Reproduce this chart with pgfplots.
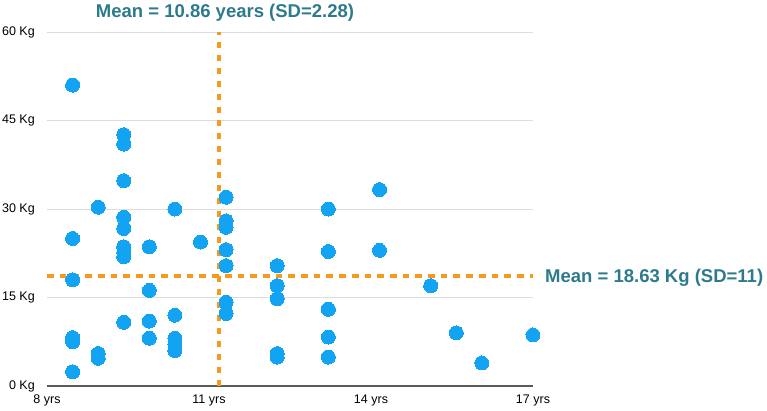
\documentclass[border=0pt]{standalone}
\usepackage{pgfplots}
\pgfplotsset{compat=1.18}
\usepackage{pgfplotstable}
\usepackage{fontspec}
\setmainfont{Liberation Sans}

\definecolor{dotblue}{HTML}{12A4F2}
\definecolor{meanorange}{HTML}{F5991F}
\definecolor{labelteal}{HTML}{2D7A8C}
\definecolor{gridgray}{HTML}{DDDDDD}
\definecolor{basegray}{HTML}{5A5A5A}

% age (years) and weight (Kg) of each child
\pgfplotstableread{
age  weight
8    51.0
8    25.0
8    18.0
8    8.2
8    7.5
8    2.4
8.5  30.3
8.5  5.5
8.5  4.7
9    42.6
9    41.0
9    34.8
9    28.6
9    26.7
9    23.6
9    22.6
9    21.9
9    10.8
9.5  23.6
9.5  16.2
9.5  11.0
9.5  8.1
10   30.0
10   12.0
10   8.1
10   7.1
10   6.0
10.5 24.4
11   32.0
11   28.0
11   26.9
11   23.1
11   20.4
11   14.2
11   12.3
12   20.4
12   17.0
12   14.8
12   5.5
12   4.9
13   30.0
13   22.8
13   13.0
13   8.3
13   4.9
14   33.3
14   23.0
15   17.0
15.5 9.0
16   3.9
17   8.65
}\weights

\begin{document}
\begin{tikzpicture}
\useasboundingbox (-47pt,-24pt) rectangle (720pt,386pt);
\begin{axis}[
  at={(0,0)}, anchor=south west,
  scale only axis,
  width=486pt, height=354pt,
  xmin=7.5, xmax=17, ymin=0, ymax=60,
  enlargelimits=false,
  clip=false,
  axis lines*=left,
  x axis line style={-, draw=basegray, line width=1.2pt},
  y axis line style={draw=none},
  xtick={7.5,10.6667,13.8333,17},
  xticklabels={8 yrs,11 yrs,14 yrs,17 yrs},
  ytick={0,15,30,45,60},
  yticklabels={0 Kg,15 Kg,30 Kg,45 Kg,60 Kg},
  major tick length=0pt,
  ymajorgrids,
  major grid style={draw=gridgray, line width=1pt},
  tick label style={font=\fontsize{12.5}{14}\selectfont, text=black},
  yticklabel style={inner sep=0pt, anchor=east, xshift=-12pt},
  xticklabel style={inner sep=0pt, anchor=north, yshift=-9pt},
]
\addplot[only marks, mark=*, mark size=7pt, color=dotblue,
  mark options={draw=dotblue, fill=dotblue, line width=0pt}]
  table[x=age, y=weight] {\weights};

% mean age and mean weight
\addplot[meanorange, line width=3.3pt, dash pattern=on 6pt off 7pt]
  coordinates {(10.86,0) (10.86,60)};
\addplot[meanorange, line width=3.3pt, dash pattern=on 6.7pt off 6pt]
  coordinates {(7.5,18.63) (17,18.63)};

\node[anchor=base, inner sep=0pt, yshift=15pt, text=labelteal,
  font=\fontsize{18.5}{20}\selectfont\bfseries]
  at (axis cs:10.98,60) {Mean = 10.86 years (SD=2.28)};
\node[anchor=base west, inner sep=0pt, xshift=12pt, yshift=-6.3pt, text=labelteal,
  font=\fontsize{18.5}{20}\selectfont\bfseries]
  at (axis cs:17,18.63) {Mean = 18.63 Kg (SD=11)};
\end{axis}
\end{tikzpicture}
\end{document}
